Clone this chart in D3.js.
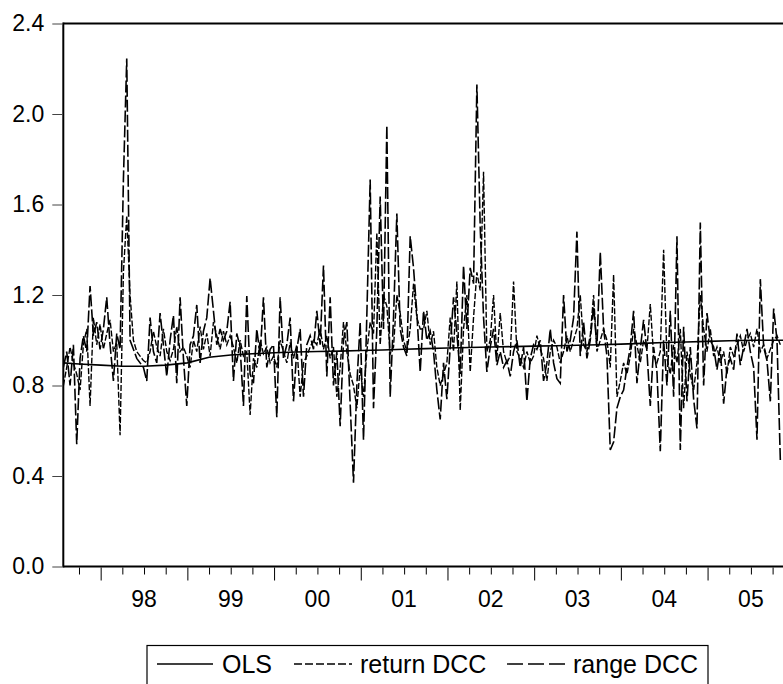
<!DOCTYPE html>
<html><head><meta charset="utf-8">
<script src="https://cdn.jsdelivr.net/npm/d3@7"></script>
<style>body{margin:0;background:#fff}svg{display:block}text{font-family:"Liberation Sans",Arial,sans-serif;fill:#000}</style>
</head><body>
<svg id="c" width="783" height="684"></svg>
<script>
// Biweekly observations starting mid-1997
const startYear = 1997.57;
const stepYears = 2 / 52;

const rangeDCC = [
 0.88,0.95,0.80,0.98,0.54,0.92,1.02,0.95,1.24,1.02,1.08,0.96,1.05,1.19,0.98,0.82,1.03,0.96,1.71,2.245,1.00,0.96,0.92,0.90,0.88,0.82,1.10,0.95,0.90,1.12,0.98,0.84,1.00,1.11,0.81,1.19,
 0.92,0.71,0.98,1.02,1.156,0.90,1.04,1.10,1.274,1.13,0.98,1.05,1.00,1.04,1.17,0.82,1.03,0.97,0.71,1.195,0.85,0.81,1.05,0.93,1.19,0.88,0.96,0.98,0.66,1.19,0.92,0.98,1.10,0.73,0.96,1.05,
 0.75,0.98,1.02,0.96,1.13,0.98,1.33,0.84,1.19,0.80,0.95,0.62,1.00,1.08,0.72,0.37,0.80,1.08,0.56,1.11,1.71,0.70,1.05,1.635,1.05,1.95,0.75,1.10,1.56,1.05,0.97,0.93,1.46,1.32,1.12,0.86,
 1.13,1.00,1.04,0.95,0.78,0.65,0.90,0.74,0.97,1.19,1.03,0.85,1.33,1.05,1.32,1.25,2.13,1.50,1.10,0.86,0.97,1.05,0.89,0.95,0.88,0.91,0.84,0.95,1.00,0.88,0.97,0.73,0.92,0.98,0.96,1.00,
 0.82,0.90,1.05,0.90,0.83,0.81,1.20,0.95,1.00,1.10,1.48,0.93,1.08,0.92,1.00,1.15,0.97,1.39,1.05,0.93,0.515,0.55,0.70,0.75,0.78,0.88,0.97,1.13,0.81,0.96,1.09,0.95,0.71,0.97,0.86,0.51,
 1.00,0.80,1.13,0.75,1.46,0.515,1.06,0.73,0.97,0.74,0.61,1.52,0.80,1.12,1.00,0.97,0.87,0.97,0.72,0.88,0.92,0.87,1.03,0.89,0.97,1.05,0.95,0.88,0.56,1.27,0.97,0.91,0.73,1.14,1.00,0.47
];

const returnDCC = [
 0.80,0.88,0.97,0.90,0.85,0.78,0.98,1.05,0.71,1.10,0.98,1.07,0.96,1.03,1.09,0.95,0.99,0.58,1.30,1.55,1.20,1.00,0.95,0.93,0.91,0.90,0.95,1.04,0.97,0.93,1.05,0.95,0.91,0.96,1.06,0.95,
 0.97,0.93,0.88,1.00,0.95,1.06,0.96,1.03,0.93,1.08,1.02,0.96,1.04,0.98,1.02,0.97,0.90,1.00,0.93,0.95,0.67,0.92,0.88,1.00,0.94,0.97,0.90,0.93,0.88,1.00,0.95,0.90,0.99,0.92,0.98,0.75,
 0.90,0.93,0.97,1.00,0.98,1.05,0.96,1.02,0.92,0.97,0.75,0.88,1.08,0.95,0.85,0.80,0.70,0.88,0.75,0.95,1.08,1.03,1.475,0.98,1.20,1.15,0.94,0.97,1.20,1.12,1.00,0.95,1.05,1.25,1.10,1.05,
 1.05,1.13,0.98,1.04,0.88,0.80,0.85,0.90,1.10,0.95,1.26,0.69,1.05,1.20,0.86,1.10,1.30,1.22,1.745,0.95,1.00,1.20,0.92,1.12,0.95,0.90,0.93,1.26,0.95,0.92,0.88,0.95,0.90,0.93,1.02,0.96,
 0.92,0.82,0.95,1.00,0.97,0.90,0.95,1.02,0.95,1.00,1.05,1.20,0.98,0.95,1.02,1.20,0.95,1.00,1.05,1.00,0.88,1.29,0.75,0.82,0.90,0.85,0.93,1.05,0.98,0.90,1.00,0.96,1.16,0.93,0.90,0.95,
 1.40,0.92,0.85,0.98,0.90,1.05,0.70,0.95,0.85,0.78,0.90,1.20,1.05,0.95,1.05,0.93,0.97,0.90,0.95,0.85,0.97,0.93,0.98,1.02,0.95,1.00,1.03,0.97,1.05,0.95,0.98,0.92,0.96,1.00,1.02,0.98
];

const olsDates = [1997.57,1997.75,1998.0,1998.25,1998.5,1998.75,1999.0,1999.25,1999.5,1999.75,2000.0,2000.25,2000.5,2000.75,2001.0,2001.25,2001.5,2001.75,2002.0,2002.25,2002.5,2002.75,2003.0,2003.25,2003.5,2003.75,2004.0,2004.25,2004.5,2004.75,2005.0,2005.25,2005.5,2005.75,2005.87];
const olsValues = [0.90,0.895,0.89,0.885,0.885,0.89,0.90,0.925,0.935,0.94,0.945,0.948,0.95,0.952,0.955,0.957,0.96,0.963,0.966,0.968,0.97,0.972,0.974,0.976,0.978,0.98,0.983,0.986,0.99,0.992,0.995,0.998,1.0,1.0,1.0];

const yearLabels = ["98","99","00","01","02","03","04","05"];
const yearStarts = [1998,1999,2000,2001,2002,2003,2004,2005];
const yTickValues = [0.0,0.4,0.8,1.2,1.6,2.0,2.4];
const seriesNames = ["OLS","return DCC","range DCC"];

const svg = d3.select("#c");
const L = 63.3, R = 783, T = 23.5, B = 566.5;
const x = d3.scaleLinear().domain([1997.569, 2005.870]).range([L, R]);
const y = d3.scaleLinear().domain([0, 2.4]).range([B, T]);

svg.append("defs").append("clipPath").attr("id","clip")
  .append("rect").attr("x",L).attr("y",T).attr("width",R-L).attr("height",B-T);

const dates = rangeDCC.map((_, i) => startYear + i * stepYears);
const line = d3.line().x(d => x(d[0])).y(d => y(d[1]));

const g = svg.append("g").attr("clip-path","url(#clip)");
g.append("path").datum(dates.map((d,i)=>[d,returnDCC[i]]))
  .attr("d", line).attr("fill","none").attr("stroke","#000").attr("stroke-width",1.4)
  .attr("stroke-dasharray","6,2");
g.append("path").datum(dates.map((d,i)=>[d,rangeDCC[i]]))
  .attr("d", line).attr("fill","none").attr("stroke","#000").attr("stroke-width",1.6)
  .attr("stroke-dasharray","12,3");
g.append("path").datum(olsDates.map((d,i)=>[d,olsValues[i]]))
  .attr("d", line).attr("fill","none").attr("stroke","#000").attr("stroke-width",1.6);

// frame
svg.append("line").attr("x1",L).attr("x2",R+2).attr("y1",T).attr("y2",T).attr("stroke","#000").attr("stroke-width",2);
svg.append("line").attr("x1",L).attr("x2",L).attr("y1",T-1).attr("y2",B+1).attr("stroke","#000").attr("stroke-width",2);
svg.append("line").attr("x1",L).attr("x2",R+2).attr("y1",B).attr("y2",B).attr("stroke","#000").attr("stroke-width",2);

// y axis
const yAxis = d3.axisLeft(y).tickValues(yTickValues).tickFormat(d3.format(".1f")).tickSize(10).tickPadding(8);
const ya = svg.append("g").attr("transform",`translate(${L-1},0)`).call(yAxis);
ya.select(".domain").remove();
ya.selectAll("line").attr("stroke","#444");
ya.selectAll("text").attr("font-size",23).attr("font-family","Liberation Sans, Arial, sans-serif");

// x axis: quarterly minor, yearly major ticks
const quarters = d3.range(1997.75, 2005.9, 0.25).filter(q => Math.abs(q - Math.round(q)) > 0.01);
const xMinor = d3.axisBottom(x).tickValues(quarters).tickSize(7).tickFormat("");
const xMajor = d3.axisBottom(x).tickValues(yearStarts).tickSize(13).tickFormat("");
const xm = svg.append("g").attr("transform",`translate(0,${B+1})`).call(xMinor);
const xM = svg.append("g").attr("transform",`translate(0,${B+1})`).call(xMajor);
xm.select(".domain").remove(); xM.select(".domain").remove();
xm.selectAll("line").attr("stroke","#000"); xM.selectAll("line").attr("stroke","#000");
svg.append("g").selectAll("text").data(yearLabels).join("text")
  .attr("x",(d,i)=>x(yearStarts[i]+0.5)).attr("y",607)
  .attr("text-anchor","middle").attr("font-size",23).text(d=>d);

// legend
const lg = svg.append("g");
lg.append("rect").attr("x",147).attr("y",645.5).attr("width",561).attr("height",50)
  .attr("fill","none").attr("stroke","#000").attr("stroke-width",1.2);
const legendItems = [
  {name:seriesNames[0], x1:157, x2:213, tx:222, dash:null, w:1.5},
  {name:seriesNames[1], x1:294, x2:352, tx:360, dash:"8,3", w:1.4},
  {name:seriesNames[2], x1:507, x2:568, tx:573, dash:"16,5", w:1.4}
];
legendItems.forEach(it => {
  lg.append("line").attr("x1",it.x1).attr("x2",it.x2).attr("y1",664).attr("y2",664)
    .attr("stroke","#000").attr("stroke-width",it.w).attr("stroke-dasharray",it.dash);
  lg.append("text").attr("x",it.tx).attr("y",673).attr("font-size",25).text(it.name);
});
</script>
</body></html>
